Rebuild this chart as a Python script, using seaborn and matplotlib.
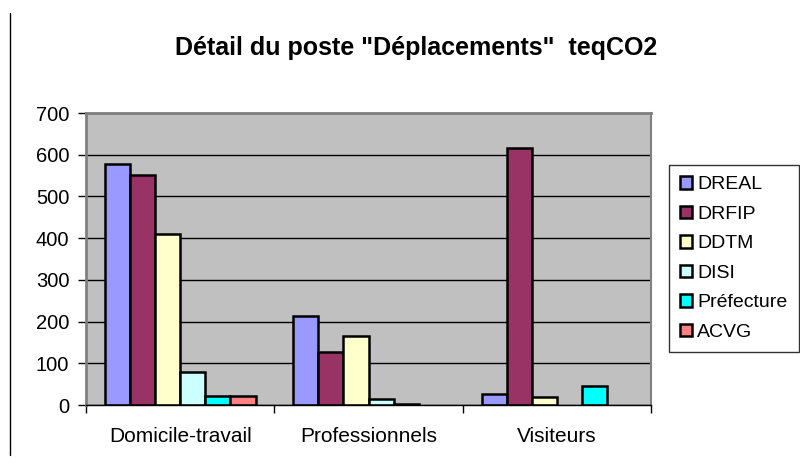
import pandas as pd
import matplotlib.pyplot as plt
import seaborn as sns
from matplotlib.lines import Line2D
from matplotlib.patches import Patch

# DONNÉES
categories = ["Domicile-travail", "Professionnels", "Visiteurs"]
services = ["DREAL", "DRFIP", "DDTM", "DISI", "Préfecture", "ACVG"]
dreal = [578, 213, 26]
drfip = [552, 127, 615]
ddtm = [410, 165, 20]
disi = [79, 14, 0]
prefecture = [21, 3, 46]
acvg = [21, 0, 0]
couleurs = ["#9999FF", "#993366", "#FFFFCC", "#CCFFFF", "#00FFFF", "#FF8080"]

valeurs = [dreal, drfip, ddtm, disi, prefecture, acvg]
df = pd.DataFrame(
    [(c, s, v[i]) for s, v in zip(services, valeurs) for i, c in enumerate(categories)],
    columns=["poste", "service", "teqCO2"],
)

sns.set_theme(style="white")
plt.rcParams["font.family"] = ["Liberation Sans", "DejaVu Sans"]
plt.rcParams["text.color"] = "black"
plt.rcParams["xtick.color"] = "black"
plt.rcParams["ytick.color"] = "black"

fig = plt.figure(figsize=(8, 4.68), dpi=100)
ax = fig.add_axes([0.1075, 0.1346, 0.7063, 0.6239])
ax.set_facecolor("#C0C0C0")

sns.barplot(data=df, x="poste", y="teqCO2", hue="service", order=categories,
            hue_order=services, palette=couleurs, saturation=1, width=0.8,
            edgecolor="black", linewidth=1.8, ax=ax, legend=False)

# barres nulles : pas de trait
for p in ax.patches:
    if p.get_height() == 0:
        p.set_visible(False)

ax.set_ylim(0, 700)
ax.set_xlim(-0.5, 2.5)
ax.set_yticks(range(0, 701, 100))
ax.yaxis.grid(True, color="black", linewidth=1)
ax.set_axisbelow(True)
ax.set_xlabel("")
ax.set_ylabel("")
ax.tick_params(axis="y", labelsize=14.5, length=6, direction="out",
               left=True, width=1, pad=6)
ax.tick_params(axis="x", which="major", labelsize=15, length=0, pad=16)
ax.set_xticks([-0.5, 0.5, 1.5, 2.5], minor=True)
ax.tick_params(axis="x", which="minor", length=6, bottom=True, width=1)

for side in ["left", "top", "right"]:
    ax.spines[side].set_color("#808080")
    ax.spines[side].set_linewidth(2)
ax.spines["right"].set_linewidth(1.5)
ax.spines["bottom"].set_color("black")
ax.spines["bottom"].set_linewidth(1)

fig.text(0.52, 0.897, 'Détail du poste "Déplacements"  teqCO2', ha="center",
         va="center", fontsize=18, fontweight="bold")

handles = [Patch(facecolor=c, edgecolor="black", linewidth=1.8, label=s)
           for c, s in zip(couleurs, services)]
leg = fig.legend(handles=handles, loc="upper left", bbox_to_anchor=(0.836, 0.648),
                 frameon=True, fontsize=14, handlelength=0.6, handleheight=0.6,
                 handletextpad=0.25, labelspacing=0.64, borderpad=0.6,
                 borderaxespad=0, fancybox=False, edgecolor="black")
leg.get_frame().set_linewidth(1)

fig.add_artist(Line2D([0.0125, 0.0125], [1 - 13 / 468, 1 - 455 / 468],
                      color="black", linewidth=1))

fig.savefig("out.png", dpi=100)
